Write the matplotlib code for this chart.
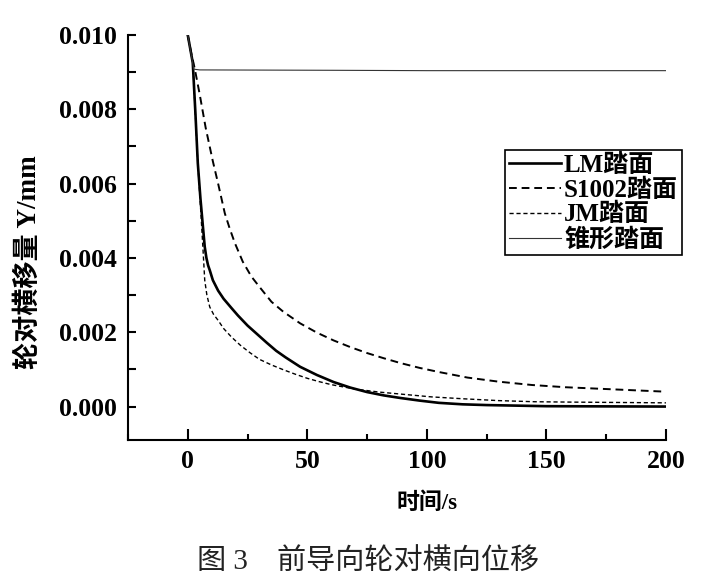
import numpy as np
import matplotlib
matplotlib.use('Agg')
import matplotlib.pyplot as plt
from matplotlib.ticker import MultipleLocator, FormatStrFormatter

plt.rcParams['font.family'] = ['Liberation Serif', 'Noto Sans CJK SC']
plt.rcParams['axes.unicode_minus'] = False

# values
lm_t = [0, 2.1, 3.2, 4.2, 5.3, 6.4, 7.1, 7.8, 8.5, 9.2, 10.5, 12.7, 15, 18.3, 21, 25, 29, 33, 37,
        41, 47, 54, 61, 68, 75, 82, 89, 97, 105, 115, 125, 150, 200]
lm_y = [0.0100, 0.00925, 0.0079, 0.00655, 0.0056, 0.0048, 0.0043, 0.0040, 0.0038, 0.00367, 0.0034,
        0.00312, 0.0029, 0.00265, 0.00245, 0.00218, 0.00195, 0.00172, 0.0015, 0.00132, 0.00107,
        0.00085, 0.00066, 0.00051, 0.00039, 0.0003, 0.00023, 0.00016, 0.0001, 0.00006, 0.00004,
        0.00001, 0.0]

s1002_t = [0, 1.5, 2.9, 5, 7.5, 10.5, 12.7, 15.5, 17.5, 19.7, 23, 26.6, 30, 35, 40, 47, 54, 61, 68,
           75, 82, 89, 97, 105, 117, 130, 144, 158, 172, 186, 200]
s1002_y = [0.0100, 0.0095, 0.0091, 0.0084, 0.0075, 0.0066, 0.0060, 0.0052, 0.0048, 0.0044, 0.0039,
           0.0035, 0.00322, 0.00282, 0.00255, 0.00224, 0.00199, 0.00178, 0.0016, 0.00144, 0.0013,
           0.00117, 0.00104, 0.00093, 0.00078, 0.00067, 0.00058, 0.00052, 0.00048, 0.00044, 0.0004]

jm_t = [0, 2.1, 4.2, 5.5, 6.4, 7.1, 8, 9.2, 10.8, 12.7, 15, 18.3, 22, 26, 30, 35, 40, 45, 50, 55,
        60, 65, 70, 75, 80, 90, 102, 115, 130, 145, 160, 180, 200]
jm_y = [0.0100, 0.00925, 0.00655, 0.0052, 0.0042, 0.0034, 0.0030, 0.00268, 0.00248, 0.00232, 0.0021,
        0.00187, 0.00165, 0.00145, 0.00127, 0.00112, 0.00099, 0.00087, 0.00076, 0.00067, 0.00059,
        0.00053, 0.00047, 0.00043, 0.00039, 0.00033, 0.00026, 0.00021, 0.00016, 0.00013, 0.00012,
        0.00011, 0.0001]

cone_t = [0, 2.5, 5, 60, 100, 200]
cone_y = [0.0100, 0.00908, 0.00906, 0.00905, 0.00904, 0.00904]

labels = ['LM踏面', 'S1002踏面', 'JM踏面', '锥形踏面']


def main():
    fig = plt.figure(figsize=(7.17, 5.88), dpi=100)
    ax = fig.add_axes([0.1785, 0.2517, 0.7503, 0.6888])

    ax.plot(lm_t, lm_y, color='black', lw=1.9, ls='-', label=labels[0])
    ax.plot(s1002_t, s1002_y, color='black', lw=1.4, ls=(0, (4, 2.5)), label=labels[1])
    ax.plot(jm_t, jm_y, color='black', lw=1.0, ls=(0, (3, 2)), label=labels[2])
    ax.plot(cone_t, cone_y, color='#333333', lw=0.8, ls='-', label=labels[3])

    ax.set_xlim(-25, 200)
    ax.set_ylim(-0.0009, 0.010)

    ax.spines['top'].set_visible(False)
    ax.spines['right'].set_visible(False)
    ax.spines['left'].set_linewidth(1.5)
    ax.spines['bottom'].set_linewidth(1.5)

    ax.xaxis.set_major_locator(MultipleLocator(50))
    ax.xaxis.set_minor_locator(MultipleLocator(25))
    ax.yaxis.set_major_locator(MultipleLocator(0.002))
    ax.yaxis.set_minor_locator(MultipleLocator(0.001))
    ax.yaxis.set_major_formatter(FormatStrFormatter('%.3f'))

    ax.tick_params(axis='x', which='major', direction='in', length=8, width=1.5, pad=7, labelsize=18.5)
    ax.tick_params(axis='x', which='minor', direction='in', length=4, width=1.5)
    ax.tick_params(axis='y', which='major', direction='in', length=6, width=1.5, pad=8, labelsize=18.5)
    ax.tick_params(axis='y', which='minor', direction='in', length=6, width=1.5)
    for lab in ax.get_xticklabels() + ax.get_yticklabels():
        lab.set_fontweight('bold')

    ax.set_xlabel('时间/s', fontsize=16.5, fontweight='bold')
    ax.xaxis.set_label_coords(0.556, -0.13)
    ax.set_ylabel('轮对横移量 Y/mm', fontsize=19.5, fontweight='bold')
    ax.yaxis.set_label_coords(-0.16, 0.44)

    leg = ax.legend(loc='upper left', bbox_to_anchor=(0.704, 0.745), bbox_transform=fig.transFigure,
                    borderaxespad=0, fancybox=False, framealpha=1, edgecolor='black',
                    prop={'size': 18, 'weight': 'bold'}, handlelength=2.1, handletextpad=0.12,
                    labelspacing=0.06, borderpad=0.15)
    leg.get_frame().set_linewidth(1.2)

    fig.text(0.513, 0.044, '图 3\u3000前导向轮对横向位移', fontsize=21, ha='center', va='center',
             color='#222222')

    fig.savefig('out.png', dpi=100)


if __name__ == '__main__':
    main()
